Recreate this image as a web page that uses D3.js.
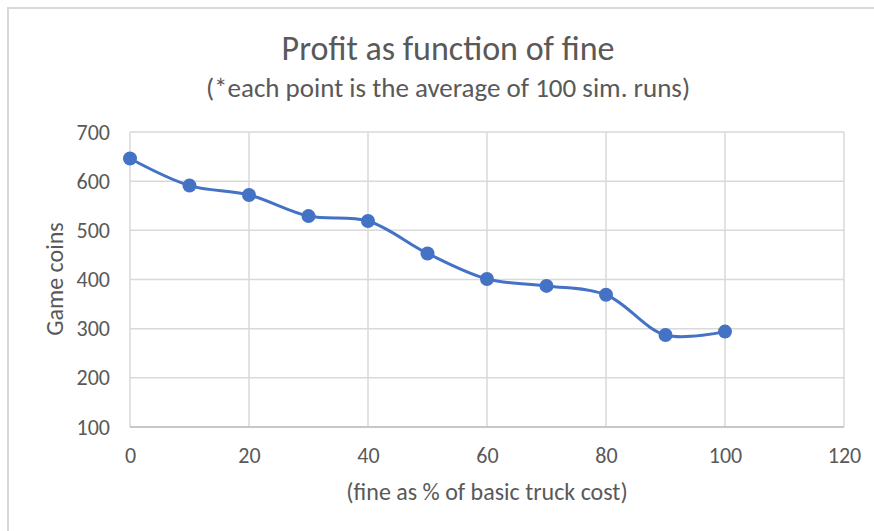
<!DOCTYPE html>
<html>
<head>
<meta charset="utf-8">
<script src="https://cdn.jsdelivr.net/npm/d3@7"></script>
<style>
  body { margin: 0; background: #fff; }
  text { font-family: Carlito, Calibri, "Open Sans", sans-serif; fill: #595959; }
</style>
</head>
<body>
<div id="chart"></div>
<script>
// chart data
var fineValues = [0, 10, 20, 30, 40, 50, 60, 70, 80, 90, 100];
var profitValues = [646, 591, 572, 529, 519, 453, 401, 387, 369, 287, 294];
var xTicks = [0, 20, 40, 60, 80, 100, 120];
var yTicks = [100, 200, 300, 400, 500, 600, 700];

var svgWidth = 874;
var svgHeight = 531;

var margin = { top: 132, right: 30, bottom: 104, left: 130 };
var width = 844 - margin.left;
var height = 427 - margin.top;

var svg = d3.select("#chart")
  .append("svg")
  .attr("width", svgWidth)
  .attr("height", svgHeight);

// chart area border (only top and left visible in the shot)
svg.append("path")
  .attr("d", "M8,531 L8,8 L874,8")
  .attr("fill", "none")
  .attr("stroke", "#d9d9d9")
  .attr("stroke-width", 2);

var chartGroup = svg.append("g")
  .attr("transform", `translate(${margin.left}, ${margin.top})`);

var xScale = d3.scaleLinear().domain([0, 120]).range([0, width]);
var yScale = d3.scaleLinear().domain([100, 700]).range([height, 0]);

// gridlines
chartGroup.append("g")
  .selectAll("line.h")
  .data(yTicks)
  .enter()
  .append("line")
  .attr("x1", 0)
  .attr("x2", width)
  .attr("y1", d => yScale(d))
  .attr("y2", d => yScale(d))
  .attr("stroke", "#d9d9d9")
  .attr("stroke-width", 1.5);

chartGroup.append("g")
  .selectAll("line.v")
  .data(xTicks)
  .enter()
  .append("line")
  .attr("x1", d => xScale(d))
  .attr("x2", d => xScale(d))
  .attr("y1", 0)
  .attr("y2", height)
  .attr("stroke", "#d9d9d9")
  .attr("stroke-width", 1.5);

// bottom axis line
chartGroup.append("line")
  .attr("x1", 0)
  .attr("x2", width)
  .attr("y1", height)
  .attr("y2", height)
  .attr("stroke", "#bfbfbf")
  .attr("stroke-width", 1.5);

// axes (labels only)
var bottomAxis = d3.axisBottom(xScale).tickValues(xTicks).tickSize(0).tickPadding(20);
var leftAxis = d3.axisLeft(yScale).tickValues(yTicks).tickSize(0).tickPadding(20);

var xAxis = chartGroup.append("g")
  .attr("transform", `translate(0, ${height})`)
  .call(bottomAxis);

var yAxis = chartGroup.append("g")
  .call(leftAxis);

[xAxis, yAxis].forEach(function(ax) {
  ax.select(".domain").remove();
  ax.selectAll("text")
    .style("font-size", "22px")
    .style("font-family", "Carlito, Calibri, 'Open Sans', sans-serif")
    .attr("fill", "#595959");
});

// smoothed line
var line = d3.line()
  .x((d, i) => xScale(fineValues[i]))
  .y(d => yScale(d))
  .curve(d3.curveCatmullRom.alpha(0.5));

chartGroup.append("path")
  .datum(profitValues)
  .attr("d", line)
  .attr("fill", "none")
  .attr("stroke", "#4472c4")
  .attr("stroke-width", 3);

chartGroup.selectAll("circle")
  .data(profitValues)
  .enter()
  .append("circle")
  .attr("cx", (d, i) => xScale(fineValues[i]))
  .attr("cy", d => yScale(d))
  .attr("r", 7)
  .attr("fill", "#4472c4");

// titles
svg.append("text")
  .attr("x", 448)
  .attr("y", 60)
  .attr("text-anchor", "middle")
  .style("font-size", "34px")
  .text("Profit as function of fine");

svg.append("text")
  .attr("x", 448)
  .attr("y", 97)
  .attr("text-anchor", "middle")
  .style("font-size", "27px")
  .text("(*each point is the average of 100 sim. runs)");

// axis titles
svg.append("text")
  .attr("transform", "rotate(-90)")
  .attr("x", -279)
  .attr("y", 63)
  .attr("text-anchor", "middle")
  .style("font-size", "24px")
  .text("Game coins");

svg.append("text")
  .attr("x", margin.left + width / 2)
  .attr("y", 500)
  .attr("text-anchor", "middle")
  .style("font-size", "24px")
  .text("(fine as % of basic truck cost)");
</script>
</body>
</html>
